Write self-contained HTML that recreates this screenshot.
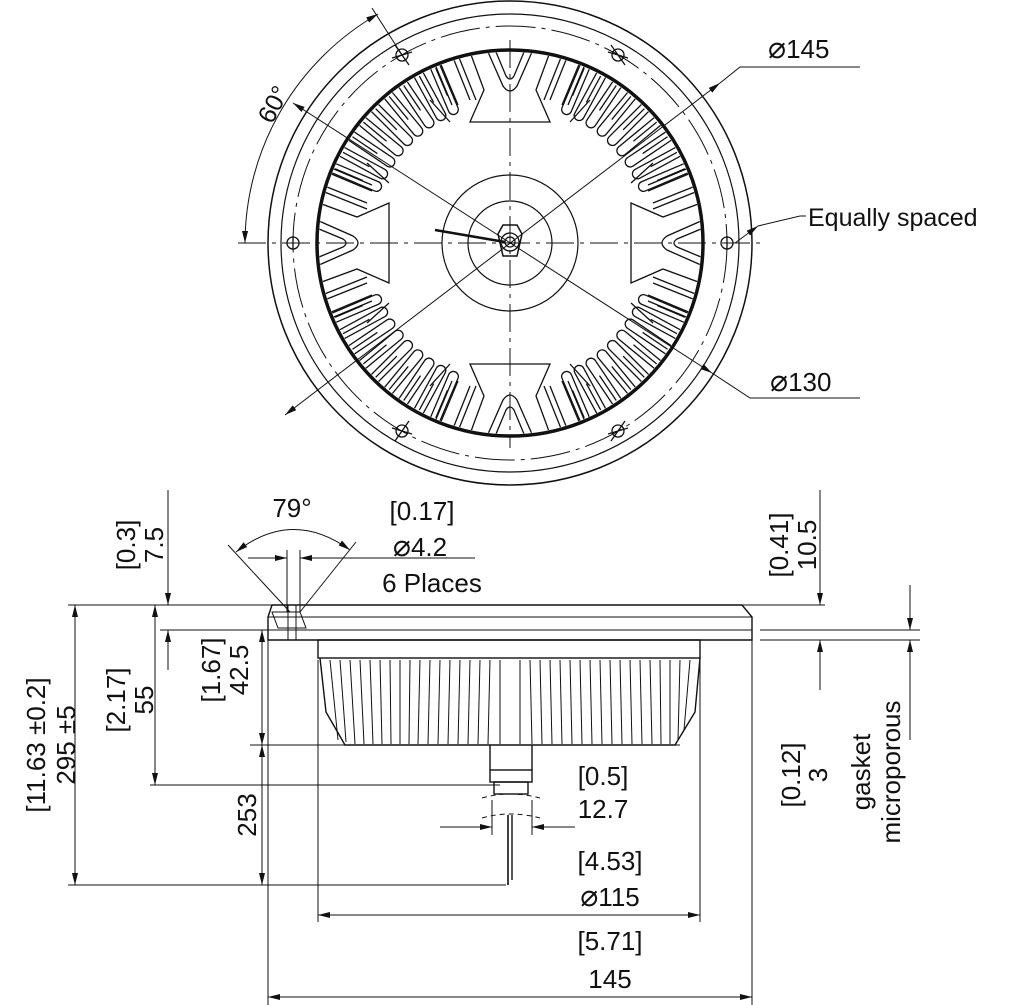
<!DOCTYPE html>
<html><head><meta charset="utf-8"><style>
html,body{margin:0;padding:0;background:#fff;}
svg{display:block;}
text{font-family:"Liberation Sans",Arial,sans-serif;fill:#111;}
</style></head><body>
<svg width="1024" height="1005" viewBox="0 0 1024 1005" xmlns="http://www.w3.org/2000/svg">
<defs>
<marker id="a" viewBox="0 0 12 6" refX="12" refY="3" markerWidth="12" markerHeight="6" orient="auto-start-reverse" markerUnits="userSpaceOnUse"><path d="M0,0 L12,3 L0,6 z" fill="#111"/></marker>
<clipPath id="cc"><circle cx="510" cy="243" r="191"/></clipPath>
<path id="slot" d="M-5,-195 L-5,-145 A5,5 0 0 0 5,-145 L5,-195 M0,-190 L0,-160" fill="none" stroke="#111" stroke-width="1.3"/>
<g id="top" fill="none" stroke="#111" stroke-width="1.3">
<path d="M488,52 L503,86 Q510,96 517,86 L532,52"/>
<path d="M496,52 L506,76 Q510,82 514,76 L524,52"/>
<path d="M470,52 L484,90 L470,122 L550,122 L536,90 L550,52"/>
<path d="M452,55 L470,100 M458,55 L476,100"/>
<path d="M434,62 L452,105 M440,62 L458,105"/>
<path d="M568,55 L550,100 M562,55 L544,100"/>
<path d="M586,62 L568,105 M580,62 L562,105"/>
<path d="M450,122 L430,100 M570,122 L590,100"/>
</g>
<g id="diag">
<use href="#slot" transform="rotate(23)"/><use href="#slot" transform="rotate(28.5)"/><use href="#slot" transform="rotate(34)"/><use href="#slot" transform="rotate(39.5)"/><use href="#slot" transform="rotate(45)"/><use href="#slot" transform="rotate(50.5)"/><use href="#slot" transform="rotate(56)"/><use href="#slot" transform="rotate(61.5)"/><use href="#slot" transform="rotate(67)"/>
</g>
</defs>

<!-- TOP VIEW -->
<g fill="none" stroke="#111">
<circle cx="510" cy="243" r="242" stroke-width="1.5"/>
<circle cx="510" cy="243" r="229" stroke-width="1.2"/>
<circle cx="510" cy="243" r="217" stroke-width="1" stroke-dasharray="40,6,4,6"/>
<circle cx="510" cy="243" r="193" stroke-width="3.5"/>
<circle cx="510" cy="243" r="68" stroke-width="1.2"/>
<circle cx="510" cy="243" r="42" stroke-width="1.2"/>
<polygon points="498,235 503,226 517,226 522,235 517,257 503,257" stroke-width="1.5" transform="translate(0,-1)"/>
<circle cx="510" cy="242" r="9" stroke-width="1.3"/>
<circle cx="510" cy="242" r="5" stroke-width="1.3"/>
</g>
<g clip-path="url(#cc)">
<use href="#top"/>
<use href="#top" transform="rotate(180 510 243)"/>
<use href="#top" transform="rotate(90 510 243)"/>
<use href="#top" transform="rotate(-90 510 243)"/>
<g transform="translate(510 243)">
<use href="#diag"/><use href="#diag" transform="rotate(90)"/><use href="#diag" transform="rotate(180)"/><use href="#diag" transform="rotate(270)"/>
</g>
</g>
<!-- holes -->
<g fill="none" stroke="#111" stroke-width="1.3">
<circle cx="293" cy="243" r="6"/><circle cx="727" cy="243" r="6"/>
<circle cx="402" cy="55" r="6"/><circle cx="618" cy="55" r="6"/>
<circle cx="402" cy="431" r="6"/><circle cx="618" cy="431" r="6"/>
<path d="M395,45 L409,65 M392,58 L412,52 M611,45 L625,65 M608,52 L628,58 M395,441 L409,421 M392,428 L412,434 M611,441 L625,421 M608,434 L628,428 M293,236 V250 M727,236 V250"/>
</g>
<!-- centerlines -->
<g stroke="#111" stroke-width="1" stroke-dasharray="28,6,4,6">
<line x1="238" y1="243" x2="762" y2="243"/>
<line x1="510" y1="40" x2="510" y2="448"/>
</g>
<line x1="435" y1="230" x2="505" y2="242" stroke="#111" stroke-width="2.5"/>
<!-- diameter lines -->
<g stroke="#111" stroke-width="1" fill="none">
<line x1="293" y1="103" x2="712" y2="373" marker-start="url(#a)" marker-end="url(#a)"/>
<polyline points="712,373 750,398 860,398"/>
<line x1="285" y1="415" x2="720" y2="83" marker-start="url(#a)" marker-end="url(#a)"/>
<polyline points="720,83 740,67 860,67"/>
<line x1="735" y1="243" x2="758" y2="226" marker-end="url(#a)" marker-start="none"/>
<polyline points="758,226 800,216 806,216"/>
<line x1="372" y1="8" x2="402" y2="55"/>
<path d="M378,14 A265,265 0 0 0 245,243" marker-start="url(#a)" marker-end="url(#a)"/>
</g>
<text x="768" y="58" font-size="26"><tspan font-size="30">⌀</tspan>145</text>
<text x="770" y="391" font-size="26"><tspan font-size="30">⌀</tspan>130</text>
<text x="808" y="226" font-size="25">Equally spaced</text>
<text x="0" y="0" font-size="25" transform="translate(272,125) rotate(-62)">60°</text>

<!-- SIDE VIEW -->
<g fill="none" stroke="#111" stroke-width="1.4">
<path d="M272,605 L742,605 L752,617 L752,640 L268,640 L268,617 Z"/>
<line x1="268" y1="617" x2="752" y2="617" stroke-width="1"/>
<line x1="270" y1="630" x2="752" y2="630" stroke-width="1"/>
<path d="M272,612 L300,612 L306,628 L278,628 Z M288,605 V640 M296,605 V640" stroke-width="1"/>
<rect x="318" y="640" width="382" height="18"/>
<path d="M320,658 L326,712 L345,745 L675,745 L695,712 L700,658"/>
<line x1="490" y1="745" x2="490" y2="770"/><line x1="532" y1="745" x2="532" y2="770"/>
<rect x="490" y="770" width="42" height="12"/><rect x="494" y="782" width="34" height="12"/>
<line x1="508" y1="815" x2="508" y2="885" stroke-width="1.6"/><line x1="512" y1="815" x2="512" y2="880"/>
<path d="M482,798 Q510,790 540,798 M482,818 Q510,810 540,818" stroke-dasharray="5,4" stroke-width="1"/>
</g>
<g stroke="#111" stroke-width="1">
<path d="M330,660 L338,740 M340,660 L346,742 M350,660 L355,744 M360,660 L364,744 M370,660 L373,744 M380,660 L382,744 M390,660 L391,744 M400,660 L400,744 M410,660 L409,744 M420,660 L418,744 M430,660 L428,744 M440,660 L438,744 M450,660 L448,744 M460,660 L458,744 M470,660 L468,744 M480,660 L478,744 M490,660 L488,744 M500,660 L500,744 M520,660 L520,744 M530,660 L532,744 M540,660 L542,744 M550,660 L552,744 M560,660 L562,744 M570,660 L572,744 M580,660 L582,744 M590,660 L592,744 M600,660 L602,744 M610,660 L612,744 M620,660 L622,744 M630,660 L632,744 M640,660 L642,744 M650,660 L652,744 M660,660 L661,744 M670,660 L670,744 M680,660 L678,740 M690,660 L684,730"/>
</g>
<!-- dimension lines side -->
<g stroke="#111" stroke-width="1" fill="none">
<line x1="68" y1="605" x2="825" y2="605"/>
<line x1="160" y1="630" x2="300" y2="630"/>
<line x1="760" y1="630" x2="920" y2="630"/>
<line x1="760" y1="640" x2="920" y2="640"/>
<line x1="250" y1="745" x2="680" y2="745"/>
<line x1="150" y1="785" x2="500" y2="785"/>
<line x1="68" y1="885" x2="506" y2="885"/>
<line x1="75" y1="605" x2="75" y2="885" marker-start="url(#a)" marker-end="url(#a)"/>
<line x1="155" y1="605" x2="155" y2="785" marker-start="url(#a)" marker-end="url(#a)"/>
<line x1="262" y1="630" x2="262" y2="745" marker-start="url(#a)" marker-end="url(#a)"/>
<line x1="262" y1="745" x2="262" y2="885" marker-start="url(#a)" marker-end="url(#a)"/>
<line x1="168" y1="490" x2="168" y2="605" marker-end="url(#a)"/>
<line x1="168" y1="670" x2="168" y2="630" marker-end="url(#a)"/>
<line x1="820" y1="490" x2="820" y2="605" marker-end="url(#a)"/>
<line x1="820" y1="690" x2="820" y2="640" marker-end="url(#a)"/>
<line x1="910" y1="585" x2="910" y2="630" marker-end="url(#a)"/>
<line x1="910" y1="740" x2="910" y2="640" marker-end="url(#a)"/>
<line x1="268" y1="640" x2="268" y2="1005"/><line x1="752" y1="640" x2="752" y2="1005"/>
<line x1="318" y1="660" x2="318" y2="922"/><line x1="700" y1="660" x2="700" y2="922"/>
<line x1="318" y1="915" x2="700" y2="915" marker-start="url(#a)" marker-end="url(#a)"/>
<line x1="268" y1="997" x2="752" y2="997" marker-start="url(#a)" marker-end="url(#a)"/>
<line x1="440" y1="827" x2="492" y2="827" marker-end="url(#a)"/>
<line x1="575" y1="827" x2="532" y2="827" marker-end="url(#a)"/>
<line x1="492" y1="800" x2="492" y2="835"/><line x1="532" y1="800" x2="532" y2="835"/>
<line x1="290" y1="612" x2="228" y2="545"/><line x1="300" y1="612" x2="356" y2="542"/>
<path d="M236,552 Q292,508 350,550" marker-start="url(#a)" marker-end="url(#a)"/>
<line x1="248" y1="558" x2="287" y2="558" marker-end="url(#a)"/>
<line x1="475" y1="558" x2="300" y2="558" marker-end="url(#a)"/>
<line x1="287" y1="550" x2="287" y2="612"/><line x1="300" y1="550" x2="300" y2="612"/>
</g>
<g font-size="26" text-anchor="middle">
<text x="292" y="517">79°</text>
<text x="422" y="520">[0.17]</text>
<text x="420" y="556"><tspan font-size="30">⌀</tspan>4.2</text>
<text x="432" y="592">6 Places</text>
<text x="603" y="785">[0.5]</text>
<text x="603" y="818">12.7</text>
<text x="610" y="870">[4.53]</text>
<text x="610" y="906"><tspan font-size="30">⌀</tspan>115</text>
<text x="610" y="950">[5.71]</text>
<text x="610" y="988">145</text>
<text transform="translate(135,545) rotate(-90)">[0.3]</text>
<text transform="translate(163,545) rotate(-90)">7.5</text>
<text transform="translate(788,545) rotate(-90)">[0.41]</text>
<text transform="translate(816,545) rotate(-90)">10.5</text>
<text transform="translate(45,745) rotate(-90)">[11.63 ±0.2]</text>
<text transform="translate(75,745) rotate(-90)">295 ±5</text>
<text transform="translate(125,700) rotate(-90)">[2.17]</text>
<text transform="translate(153,700) rotate(-90)">55</text>
<text transform="translate(220,670) rotate(-90)">[1.67]</text>
<text transform="translate(248,670) rotate(-90)">42.5</text>
<text transform="translate(256,815) rotate(-90)">253</text>
<text transform="translate(800,775) rotate(-90)">[0.12]</text>
<text transform="translate(827,775) rotate(-90)">3</text>
<text transform="translate(870,772) rotate(-90)">gasket</text>
<text transform="translate(900,772) rotate(-90)">microporous</text>
</g>
</svg>
</body></html>
